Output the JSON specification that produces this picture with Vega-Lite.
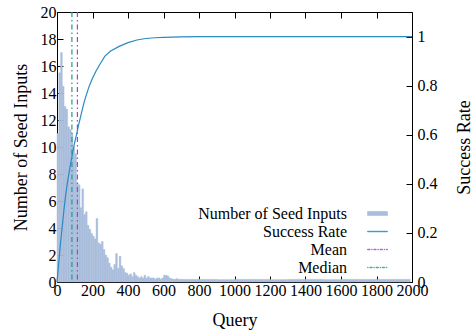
{
  "$schema": "https://vega.github.io/schema/vega-lite/v6.json",
  "width": 355,
  "height": 270,
  "autosize": "none",
  "padding": {"left": 57, "top": 12, "right": 63, "bottom": 49},
  "background": "white",
  "config": {
    "view": {"stroke": "black", "strokeWidth": 1},
    "font": "Liberation Serif",
    "axis": {
      "labelFont": "Liberation Serif",
      "titleFont": "Liberation Serif",
      "labelFontSize": 16,
      "titleFontSize": 18,
      "titleFontWeight": "normal",
      "labelColor": "black",
      "titleColor": "black",
      "tickColor": "black",
      "grid": false,
      "domain": false,
      "labelFlush": false,
      "labelOverlap": false
    },
    "legend": {"labelFont": "Liberation Serif", "labelFontSize": 16, "labelColor": "black"}
  },
  "datasets": {
    "hist": [
      {"start": 0, "end": 10, "count": 11},
      {"start": 10, "end": 20, "count": 15.5},
      {"start": 20, "end": 30, "count": 17},
      {"start": 30, "end": 40, "count": 14.5},
      {"start": 40, "end": 50, "count": 13},
      {"start": 50, "end": 60, "count": 12.8},
      {"start": 60, "end": 70, "count": 11.5},
      {"start": 70, "end": 80, "count": 11.3},
      {"start": 80, "end": 90, "count": 11},
      {"start": 90, "end": 100, "count": 10},
      {"start": 100, "end": 110, "count": 9.5},
      {"start": 110, "end": 120, "count": 7.3},
      {"start": 120, "end": 130, "count": 7.2},
      {"start": 130, "end": 140, "count": 5.5},
      {"start": 140, "end": 150, "count": 6.9},
      {"start": 150, "end": 160, "count": 5.0},
      {"start": 160, "end": 170, "count": 5.2},
      {"start": 170, "end": 180, "count": 4.2},
      {"start": 180, "end": 190, "count": 3.9},
      {"start": 190, "end": 200, "count": 3.6},
      {"start": 200, "end": 210, "count": 3.4},
      {"start": 210, "end": 220, "count": 3.2},
      {"start": 220, "end": 230, "count": 4.7},
      {"start": 230, "end": 240, "count": 2.9},
      {"start": 240, "end": 250, "count": 2.8},
      {"start": 250, "end": 260, "count": 3.0},
      {"start": 260, "end": 270, "count": 2.4},
      {"start": 270, "end": 280, "count": 2.0},
      {"start": 280, "end": 290, "count": 1.8},
      {"start": 290, "end": 300, "count": 1.4},
      {"start": 300, "end": 310, "count": 1.1},
      {"start": 310, "end": 320, "count": 0.9},
      {"start": 320, "end": 330, "count": 1.3},
      {"start": 330, "end": 340, "count": 2.1},
      {"start": 340, "end": 350, "count": 1.0},
      {"start": 350, "end": 360, "count": 1.9},
      {"start": 360, "end": 370, "count": 1.2},
      {"start": 370, "end": 380, "count": 1.0},
      {"start": 380, "end": 390, "count": 0.7},
      {"start": 390, "end": 400, "count": 0.65},
      {"start": 400, "end": 410, "count": 0.5},
      {"start": 410, "end": 420, "count": 0.6},
      {"start": 420, "end": 430, "count": 0.4},
      {"start": 430, "end": 440, "count": 0.7},
      {"start": 440, "end": 450, "count": 0.5},
      {"start": 450, "end": 460, "count": 0.4},
      {"start": 460, "end": 470, "count": 0.3},
      {"start": 470, "end": 480, "count": 0.4},
      {"start": 480, "end": 490, "count": 0.3},
      {"start": 490, "end": 500, "count": 0.5},
      {"start": 500, "end": 510, "count": 0.3},
      {"start": 510, "end": 520, "count": 0.4},
      {"start": 520, "end": 530, "count": 0.3},
      {"start": 530, "end": 540, "count": 0.3},
      {"start": 540, "end": 550, "count": 0.3},
      {"start": 550, "end": 560, "count": 0.2},
      {"start": 560, "end": 570, "count": 0.3},
      {"start": 570, "end": 580, "count": 0.3},
      {"start": 580, "end": 590, "count": 0.2},
      {"start": 590, "end": 600, "count": 0.3},
      {"start": 600, "end": 610, "count": 0.5},
      {"start": 610, "end": 620, "count": 0.5},
      {"start": 620, "end": 630, "count": 0.45},
      {"start": 630, "end": 640, "count": 0.3},
      {"start": 640, "end": 650, "count": 0.25},
      {"start": 650, "end": 660, "count": 0.2},
      {"start": 660, "end": 670, "count": 0.2},
      {"start": 670, "end": 680, "count": 0.25},
      {"start": 680, "end": 690, "count": 0.2},
      {"start": 690, "end": 700, "count": 0.2},
      {"start": 700, "end": 800, "count": 0.2},
      {"start": 800, "end": 900, "count": 0.2},
      {"start": 900, "end": 1000, "count": 0.18},
      {"start": 1000, "end": 1100, "count": 0.2},
      {"start": 1100, "end": 1200, "count": 0.2},
      {"start": 1200, "end": 1300, "count": 0.18},
      {"start": 1300, "end": 1400, "count": 0.2},
      {"start": 1400, "end": 1500, "count": 0.2},
      {"start": 1500, "end": 1600, "count": 0.18},
      {"start": 1600, "end": 1700, "count": 0.2},
      {"start": 1700, "end": 1800, "count": 0.2},
      {"start": 1800, "end": 1900, "count": 0.2},
      {"start": 1900, "end": 1990, "count": 0.2}
    ],
    "rate": [
      {"q": 0, "rate": 0},
      {"q": 10, "rate": 0.08},
      {"q": 20, "rate": 0.16},
      {"q": 30, "rate": 0.23},
      {"q": 40, "rate": 0.30},
      {"q": 50, "rate": 0.36},
      {"q": 60, "rate": 0.41},
      {"q": 70, "rate": 0.455},
      {"q": 80, "rate": 0.495},
      {"q": 90, "rate": 0.535},
      {"q": 100, "rate": 0.57},
      {"q": 110, "rate": 0.60},
      {"q": 120, "rate": 0.635},
      {"q": 130, "rate": 0.665},
      {"q": 140, "rate": 0.695},
      {"q": 150, "rate": 0.725},
      {"q": 160, "rate": 0.75},
      {"q": 180, "rate": 0.795},
      {"q": 200, "rate": 0.83},
      {"q": 220, "rate": 0.86},
      {"q": 240, "rate": 0.885},
      {"q": 270, "rate": 0.92},
      {"q": 300, "rate": 0.94},
      {"q": 350, "rate": 0.96},
      {"q": 400, "rate": 0.975},
      {"q": 450, "rate": 0.986},
      {"q": 500, "rate": 0.992},
      {"q": 550, "rate": 0.995},
      {"q": 600, "rate": 0.997},
      {"q": 700, "rate": 0.999},
      {"q": 800, "rate": 1},
      {"q": 2000, "rate": 1}
    ],
    "stats": [
      {"stat": "Mean", "q": 115},
      {"stat": "Median", "q": 84}
    ]
  },
  "layer": [
    {
      "data": {"name": "hist"},
      "mark": {"type": "rect", "fill": "#a9bddc", "stroke": "#a9bddc", "strokeWidth": 0.4, "opacity": 1},
      "encoding": {
        "x": {
          "field": "start",
          "type": "quantitative",
          "scale": {"domain": [0, 2000], "nice": false},
          "axis": {
            "orient": "bottom",
            "values": [0, 200, 400, 600, 800, 1000, 1200, 1400, 1600, 1800, 2000],
            "format": "d",
            "labelFont": "Liberation Serif",
            "labelFontSize": 16,
            "titleFont": "Liberation Serif",
            "tickSize": -6,
            "labelPadding": 6,
            "title": "Query",
            "titlePadding": 13
          }
        },
        "x2": {"field": "end"},
        "y": {
          "field": "count",
          "type": "quantitative",
          "scale": {"domain": [0, 20], "nice": false},
          "axis": {
            "orient": "left",
            "values": [0, 2, 4, 6, 8, 10, 12, 14, 16, 18, 20],
            "format": "d",
            "labelFont": "Liberation Serif",
            "labelFontSize": 16,
            "titleFont": "Liberation Serif",
            "tickSize": -6,
            "labelPadding": 7,
            "title": "Number of Seed Inputs",
            "titlePadding": 10
          }
        },
        "y2": {"datum": 0},
        "color": {
          "datum": "Number of Seed Inputs",
          "type": "nominal",
          "scale": {
            "domain": ["Number of Seed Inputs", "Success Rate", "Mean", "Median"],
            "range": ["#a9bddc", "#2a8ac4", "#a83be8", "#1aa37a"]
          },
          "legend": {
            "orient": "none",
            "legendX": 312,
            "legendY": 193,
            "title": null,
            "padding": 0,
            "symbolSize": 256,
            "rowPadding": 1,
            "labelFont": "Liberation Serif",
            "labelFontSize": 16,
            "labelColor": "black",
            "labelAlign": "right",
            "labelOffset": -39,
            "labelLimit": 300,
            "encoding": {
              "symbols": {
                "shape": {"value": {"expr": "datum.value === 'Number of Seed Inputs' ? 'M-1.25,-0.25H1.25V0.25H-1.25Z' : datum.value === 'Success Rate' ? 'M-1.25,-0.04H1.25V0.04H-1.25Z' : datum.value === 'Mean' ? 'M-1.25,-0.04H-0.94V0.04H-1.25Z M-0.75,-0.04H-0.66V0.04H-0.75Z M-0.47,-0.04H-0.16V0.04H-0.47Z M0.03,-0.04H0.13V0.04H0.03Z M0.31,-0.04H0.63V0.04H0.31Z M0.81,-0.04H0.91V0.04H0.81Z M1.09,-0.04H1.25V0.04H1.09Z' : 'M-1.25,-0.04H-1.16V0.04H-1.25Z M-0.97,-0.04H-0.66V0.04H-0.97Z M-0.47,-0.04H-0.38V0.04H-0.47Z M-0.19,-0.04H0.13V0.04H-0.19Z M0.31,-0.04H0.41V0.04H0.31Z M0.59,-0.04H0.91V0.04H0.59Z M1.09,-0.04H1.19V0.04H1.09Z'"}},
                "fill": {"value": {"expr": "datum.value === 'Number of Seed Inputs' ? '#a9bddc' : datum.value === 'Success Rate' ? '#2a8ac4' : datum.value === 'Mean' ? '#a83be8' : '#1aa37a'"}},
                "stroke": {"value": {"expr": "datum.value === 'Number of Seed Inputs' ? '#9fb3d5' : 'transparent'"}},
                "strokeWidth": {"value": 0.6},
                "opacity": {"value": 1},
                "fillOpacity": {"value": 1}
              }
            }
          }
        }
      }
    },
    {
      "data": {"name": "rate"},
      "mark": {"type": "line", "strokeWidth": 1.2},
      "encoding": {
        "x": {"field": "q", "type": "quantitative", "axis": null},
        "y": {
          "field": "rate",
          "type": "quantitative",
          "scale": {"domain": [0, 1.1], "nice": false},
          "axis": {
            "orient": "right",
            "values": [0, 0.2, 0.4, 0.6, 0.8, 1],
            "format": "~g",
            "labelFont": "Liberation Serif",
            "labelFontSize": 16,
            "titleFont": "Liberation Serif",
            "tickSize": -6,
            "labelPadding": 11,
            "title": "Success Rate",
            "titleAngle": 270,
            "titleBaseline": "top",
            "titlePadding": 18
          }
        },
        "color": {"datum": "Success Rate", "type": "nominal"}
      }
    },
    {
      "data": {"name": "stats"},
      "transform": [{"filter": "datum.stat === 'Mean'"}],
      "mark": {"type": "rule", "strokeWidth": 1.2, "strokeDash": [5, 3, 1.5, 3]},
      "encoding": {
        "x": {
          "field": "q",
          "type": "quantitative",
          "axis": {
            "orient": "top",
            "values": [0, 200, 400, 600, 800, 1000, 1200, 1400, 1600, 1800, 2000],
            "tickSize": -6,
            "labels": false,
            "title": null
          }
        },
        "color": {"datum": "Mean", "type": "nominal"}
      }
    },
    {
      "data": {"name": "stats"},
      "transform": [{"filter": "datum.stat === 'Median'"}],
      "mark": {"type": "rule", "strokeWidth": 1.2, "strokeDash": [5, 3, 1.5, 3]},
      "encoding": {
        "x": {"field": "q", "type": "quantitative", "axis": null},
        "color": {"datum": "Median", "type": "nominal"}
      }
    }
  ],
  "resolve": {"scale": {"y": "independent"}, "axis": {"x": "independent"}}
}
